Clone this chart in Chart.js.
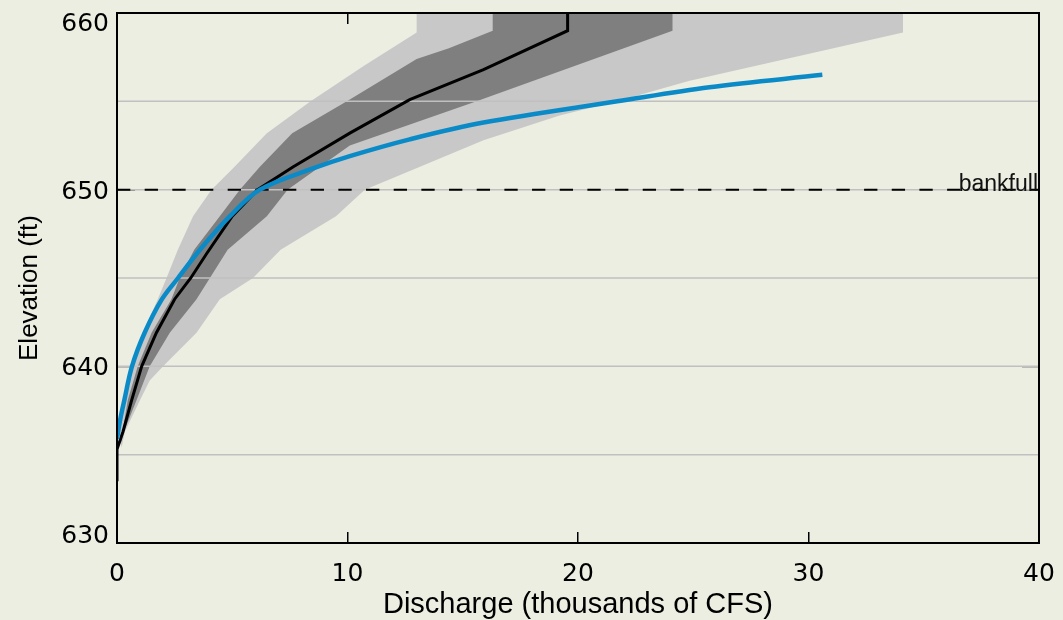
<!DOCTYPE html>
<html><head><meta charset="utf-8">
<script src="https://cdn.jsdelivr.net/npm/chart.js@4.4.1/dist/chart.umd.min.js"></script>
<style>html,body{margin:0;padding:0;background:#ebeee0;overflow:hidden}#wrap{width:1063px;height:620px}</style>
</head><body><div id="wrap"><canvas id="c" width="1063" height="620"></canvas></div>
<script>
// ---- data ----
const xTickValues = [0, 10, 20, 30, 40];
const xTickLabels = ['0', '10', '20', '30', '40'];
const yTickValues = [630, 640, 650, 660];
const yTickLabels = ['630', '640', '650', '660'];
const xTitle = 'Discharge (thousands of CFS)';
const yTitle = 'Elevation (ft)';
const bankfullElevation = 650;
const bankfullLabel = 'bankfull';
const gridElevations = [635, 640, 645, 650, 655];

// median rating curve (black)
const medianQ = [0, 0, 0.26, 0.64, 1.07, 1.71, 2.5, 3.2, 3.9, 5.0, 6.1, 7.65, 10.1, 12.7, 15.9, 19.55, 19.55];
const medianH = [633.5, 635.3, 636.3, 638.1, 640, 641.9, 643.8, 645, 646.4, 648.5, 650, 651.3, 653.2, 655.1, 656.8, 659, 660];

// observed curve (blue)
const observedQ = [0, 0.14, 0.32, 0.65, 1.2, 1.95, 2.65, 3.6, 4.9, 6.2, 8.5, 10.1, 12.7, 15.9, 21.7, 25.7, 30.6];
const observedH = [635.9, 637.0, 638.1, 640, 641.9, 643.8, 645, 646.6, 648.5, 650, 651.2, 651.9, 652.85, 653.8, 655, 655.8, 656.5];

// outer uncertainty band (light grey), outline traced around
const outerBandQ = [0.2, 0.08, 0.25, 0.69, 1.12, 1.77, 2.15, 2.64, 3.3, 4.1, 5.1, 6.5, 8.4, 10.7, 13.0, 13.0, 34.1, 34.1, 24.8, 21.7, 19.2, 15.9, 10.75, 9.5, 7.1, 5.9, 4.46, 3.45, 2.0, 1.42, 1.0, 0.34];
const outerBandH = [635.4, 636.3, 638.1, 640, 641.9, 643.8, 645, 646.6, 648.5, 650, 651.3, 653.2, 655, 657, 658.9, 660, 660, 658.9, 656.15, 655, 654.2, 652.8, 650, 648.5, 646.6, 645, 643.8, 641.9, 640, 639.2, 638.1, 636.3];

// inner uncertainty band (dark grey)
const innerBandQ = [0.15, 0.47, 0.9, 1.5, 2.36, 2.72, 3.35, 4.46, 5.33, 6.2, 7.6, 10.1, 13.0, 14.4, 16.3, 16.3, 24.1, 24.1, 15.6, 10.1, 7.4, 6.5, 4.8, 4.03, 3.45, 2.29, 1.42, 0.85, 0.3];
const innerBandH = [635.6, 638.1, 640, 641.9, 643.8, 645, 646.6, 648.5, 650, 651.3, 653.2, 655.1, 657.4, 658.0, 659, 660, 660, 659, 655, 652.5, 650, 648.5, 646.6, 645, 643.8, 641.9, 640, 638.1, 636.3];

// ---- helpers ----
const pts = (qs, hs) => qs.map((q, i) => ({x: q, y: hs[i]}));
const xMin = xTickValues[0], xMax = xTickValues[xTickValues.length - 1];
const yMin = yTickValues[0], yMax = yTickValues[yTickValues.length - 1];

const datasets = [
  {data: pts(outerBandQ, outerBandH), fill: 'shape', backgroundColor: '#c8c8c8', borderColor: 'rgba(0,0,0,0)', borderWidth: 0, tension: 0, order: 10},
  {data: pts(innerBandQ, innerBandH), fill: 'shape', backgroundColor: '#7f7f7f', borderColor: 'rgba(0,0,0,0)', borderWidth: 0, tension: 0, order: 9}
];
gridElevations.forEach(e => datasets.push({data: [{x: xMin, y: e}, {x: xMax, y: e}], borderColor: '#c0c0c0', borderWidth: 1.5, fill: false, order: 8}));
datasets.push({data: [{x: xMin, y: bankfullElevation}, {x: xMax, y: bankfullElevation}], borderColor: '#000', borderWidth: 2, borderDash: [13.3, 14.37], borderCapStyle: 'butt', fill: false, order: 7});
datasets.push({data: pts(medianQ, medianH), borderColor: '#000', borderWidth: 3, tension: 0, fill: false, order: 2});
datasets.push({data: pts(observedQ, observedH), indexAxis: 'y', borderColor: '#0b8ac8', borderWidth: 4.5, tension: 0.35, fill: false, order: 1});

const overlay = {
  id: 'overlay',
  afterDatasetsDraw(chart) {
    const {ctx, chartArea: a, scales} = chart;
    ctx.save();
    ctx.strokeStyle = '#000';
    ctx.lineWidth = 2;
    ctx.strokeRect(a.left, a.top, a.right - a.left, a.bottom - a.top);
    ctx.fillStyle = '#111';
    ctx.font = '23px "Liberation Sans"';
    ctx.textAlign = 'right';
    ctx.textBaseline = 'alphabetic';
    ctx.fillText(bankfullLabel, scales.x.getPixelForValue(xMax) - 1, scales.y.getPixelForValue(bankfullElevation) + 1);
    ctx.fillStyle = '#000';
    ctx.font = '25px "DejaVu Sans"';
    yTickValues.forEach((v, i) => {
      const m = ctx.measureText(yTickLabels[i]);
      const h = m.actualBoundingBoxAscent;
      let yc = scales.y.getPixelForValue(v);
      yc = Math.min(Math.max(yc, a.top + h / 2), a.bottom - h / 2);
      ctx.fillText(yTickLabels[i], a.left - 8, yc + h / 2);
    });
    // y axis title
    ctx.font = '26px "Liberation Sans"';
    ctx.textAlign = 'center';
    ctx.translate(37, (a.top + a.bottom) / 2 + 10);
    ctx.rotate(-Math.PI / 2);
    ctx.fillText(yTitle, 0, 0);
    ctx.restore();
  }
};

const tickColor = c => (c.tick && c.tick.value === 640 ? '#888' : '#000');

new Chart(document.getElementById('c'), {
  type: 'line',
  data: {datasets},
  options: {
    responsive: false,
    animation: false,
    events: [],
    layout: {padding: 0},
    plugins: {legend: {display: false}, tooltip: {enabled: false}},
    elements: {point: {radius: 0}},
    scales: {
      x: {
        type: 'linear', position: 'bottom', min: xMin, max: xMax,
        afterBuildTicks: s => { s.ticks = xTickValues.map(v => ({value: v})); },
        afterFit: s => { s.height = 77; s.paddingLeft = 0; s.paddingRight = 0; },
        grid: {drawOnChartArea: false, drawTicks: true, tickLength: -11, color: '#000', lineWidth: 1.5},
        border: {display: false},
        ticks: {padding: 27, font: {family: 'DejaVu Sans', size: 25}, color: '#000', maxRotation: 0, autoSkip: false,
                callback: (v, i) => xTickLabels[i]},
        title: {display: true, text: xTitle, font: {family: 'Liberation Sans', size: 29}, color: '#000', padding: {top: 0, bottom: -2}}
      },
      x2: {
        type: 'linear', axis: 'x', position: 'top', min: xMin, max: xMax,
        afterBuildTicks: s => { s.ticks = xTickValues.map(v => ({value: v})); },
        afterFit: s => { s.height = 13; s.paddingLeft = 0; s.paddingRight = 0; },
        grid: {drawOnChartArea: false, drawTicks: true, tickLength: -11, color: '#000', lineWidth: 1.5},
        border: {display: false},
        ticks: {display: false}
      },
      y: {
        type: 'linear', position: 'left', min: yMin, max: yMax,
        afterBuildTicks: s => { s.ticks = yTickValues.map(v => ({value: v})); },
        afterFit: s => { s.width = 117; s.paddingTop = 0; s.paddingBottom = 0; },
        grid: {drawOnChartArea: false, drawTicks: true, tickLength: -18, color: tickColor, lineWidth: 1.5},
        border: {display: false},
        ticks: {display: false}
      },
      y2: {
        type: 'linear', axis: 'y', position: 'right', min: yMin, max: yMax,
        afterBuildTicks: s => { s.ticks = yTickValues.map(v => ({value: v})); },
        afterFit: s => { s.width = 24; s.paddingTop = 0; s.paddingBottom = 0; },
        grid: {drawOnChartArea: false, drawTicks: true, tickLength: -17, color: tickColor, lineWidth: 1.5},
        border: {display: false},
        ticks: {display: false}
      }
    }
  },
  plugins: [overlay]
});
</script>
</body></html>
